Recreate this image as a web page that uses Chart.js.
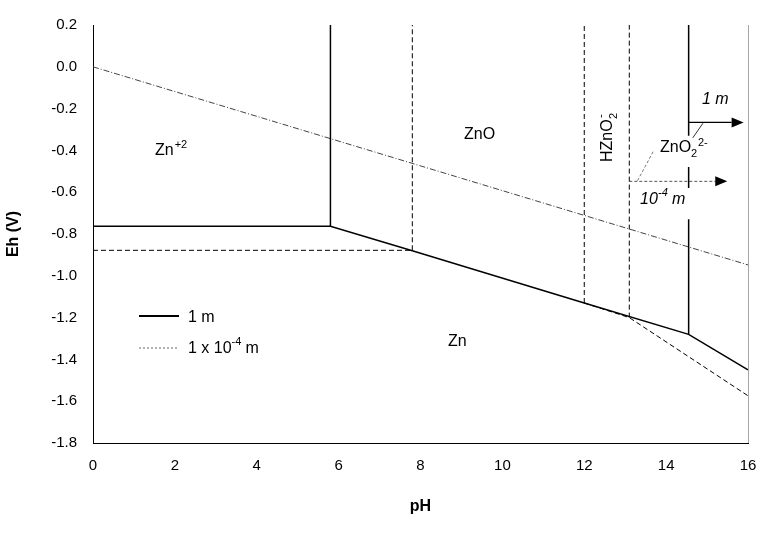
<!DOCTYPE html>
<html>
<head>
<meta charset="UTF-8">
<style>body{margin:0;background:#fff}#wrap{width:780px;height:534px}</style>
</head>
<body>
<div id="wrap"><canvas id="c"></canvas></div>
<script src="https://cdn.jsdelivr.net/npm/chart.js"></script>
<script>
// 1 m boundaries
var solidBase = [[0,-0.763],[5.8,-0.763],[7.8,-0.88],[12.0,-1.13],[14.55,-1.28],[16,-1.45]];
var solidZnLeft = [[5.8,-0.763],[5.8,0.2]];
var solidZnRight1 = [[14.55,0.2],[14.55,-0.33]];
var solidZnRight2 = [[14.55,-0.48],[14.55,-0.58]];
var solidZnRight3 = [[14.55,-0.73],[14.55,-1.28]];
// 1e-4 m boundaries
var dashBase = [[0,-0.878],[7.8,-0.878]];
var dashDiag = [[12.0,-1.13],[13.1,-1.2],[16,-1.574]];
var dashV1 = [[7.8,-0.878],[7.8,0.2]];
var dashV2 = [[12.0,-1.13],[12.0,0.2]];
var dashV3 = [[13.1,-1.2],[13.1,0.2]];
// water line
var water = [[0,0],[16,-0.948]];
// arrows
var arrow1m = [[14.55,-0.266],[15.6,-0.266]];
var arrow4 = [[13.1,-0.548],[15.2,-0.548]];
var lead1m = [[14.9,-0.27],[14.65,-0.34]];
var lead4 = [[13.3,-0.545],[13.7,-0.40]];
var xTicks = [0,2,4,6,8,10,12,14,16];

function pts(a){return a.map(function(p){return {x:p[0],y:p[1]};});}
function ds(a, o){return Object.assign({data:pts(a),showLine:true,pointRadius:0,fill:false,borderColor:'#000',borderWidth:1},o||{});}

var labels = {
  id:'labels',
  afterDatasetsDraw:function(ch){
    var c=ch.ctx, xs=ch.scales.x, ys=ch.scales.y, a=ch.chartArea;
    function X(v){return xs.getPixelForValue(v);} function Y(v){return ys.getPixelForValue(v);}
    c.save();
    c.strokeStyle='#a6a6a6'; c.lineWidth=1;
    c.beginPath(); c.moveTo(a.right+0.5,a.top); c.lineTo(a.right+0.5,a.bottom); c.stroke();
    c.fillStyle='#000';
    [arrow1m[1],arrow4[1]].forEach(function(p){
      var x=X(p[0]), y=Y(p[1]);
      c.beginPath(); c.moveTo(x+12,y); c.lineTo(x,y-5); c.lineTo(x,y+5); c.closePath(); c.fill();
    });
    c.font='16px "Liberation Sans", Arial, sans-serif';
    c.textBaseline='alphabetic';
    c.fillText('Zn',155,155);
    var w=c.measureText('Zn').width;
    c.font='11px "Liberation Sans", Arial';
    c.fillText('+2',155+w+1,148);
    c.font='16px "Liberation Sans", Arial';
    c.fillText('ZnO',464,139);
    c.fillText('Zn',448,346);
    c.fillText('ZnO',660,152);
    c.font='11px "Liberation Sans", Arial'; c.fillText('2',691,157); c.fillText('2-',698,146);
    c.save(); c.translate(612,162); c.rotate(-Math.PI/2);
    c.font='16px "Liberation Sans", Arial'; c.fillText('HZnO',0,0);
    c.font='11px "Liberation Sans", Arial'; c.fillText('2',43,5); c.fillText('-',44,-8);
    c.restore();
    c.font='italic 16px "Liberation Sans", Arial';
    c.fillText('1 m',702,104);
    c.fillText('10',640,204);
    c.font='italic 11px "Liberation Sans", Arial'; c.fillText('-4',658,196);
    c.font='italic 16px "Liberation Sans", Arial'; c.fillText('m',672,204);
    // legend
    c.lineWidth=2; c.strokeStyle='#000';
    c.beginPath(); c.moveTo(139,316); c.lineTo(179,316); c.stroke();
    c.lineWidth=1; c.strokeStyle='#666'; c.setLineDash([2,2]);
    c.beginPath(); c.moveTo(139,348); c.lineTo(179,348); c.stroke();
    c.setLineDash([]);
    c.font='16px "Liberation Sans", Arial';
    c.fillText('1 m',188,322);
    c.fillText('1 x 10',188,353);
    w=c.measureText('1 x 10').width;
    c.font='11px "Liberation Sans", Arial'; c.fillText('-4',188+w,345);
    c.font='16px "Liberation Sans", Arial'; c.fillText('m',188+w+14,353);
    c.restore();
  }
};

var tickFont={size:15,family:'"Liberation Sans", Arial'};
new Chart(document.getElementById('c'),{
  type:'scatter',
  data:{datasets:[
    ds(solidBase,{borderWidth:1.5}), ds(solidZnLeft,{borderWidth:1.5}),
    ds(solidZnRight1,{borderWidth:1.5}), ds(solidZnRight2,{borderWidth:1.5}), ds(solidZnRight3,{borderWidth:1.5}),
    ds(dashBase,{borderDash:[5,3]}), ds(dashDiag,{borderDash:[5,3]}),
    ds(dashV1,{borderDash:[5,3]}), ds(dashV2,{borderDash:[5,3]}), ds(dashV3,{borderDash:[5,3]}),
    ds(water,{borderDash:[6,2,1,2],borderColor:'#444'}),
    ds(arrow1m,{borderWidth:1.2}), ds(arrow4,{borderDash:[3,2],borderColor:'#555'}),
    ds(lead1m,{borderColor:'#333'}), ds(lead4,{borderDash:[3,2],borderColor:'#777'})
  ]},
  options:{
    responsive:true, maintainAspectRatio:false, animation:false,
    layout:{padding:{top:18,right:32,left:0,bottom:14}},
    plugins:{legend:{display:false},tooltip:{enabled:false}},
    scales:{
      x:{type:'linear',min:0,max:16,
        afterBuildTicks:function(s){s.ticks=xTicks.map(function(v){return {value:v};});},
        afterFit:function(s){s.height=77;},
        grid:{display:false,drawTicks:false},border:{color:'#000',width:1},
        ticks:{color:'#000',font:tickFont,padding:14},
        title:{display:true,text:'pH',color:'#000',font:{size:16,weight:'bold',family:'"Liberation Sans", Arial'},padding:{top:4}}},
      y:{min:-1.8,max:0.2,
        afterFit:function(s){s.width=93;},
        grid:{display:false,drawTicks:false},border:{color:'#000',width:1},
        ticks:{stepSize:0.2,color:'#000',font:tickFont,padding:16,
          callback:function(v){return Number(v).toFixed(1);}},
        title:{display:true,text:'Eh (V)',color:'#000',font:{size:16,weight:'bold',family:'"Liberation Sans", Arial'}}}
    }
  },
  plugins:[labels]
});
</script>
</body>
</html>
